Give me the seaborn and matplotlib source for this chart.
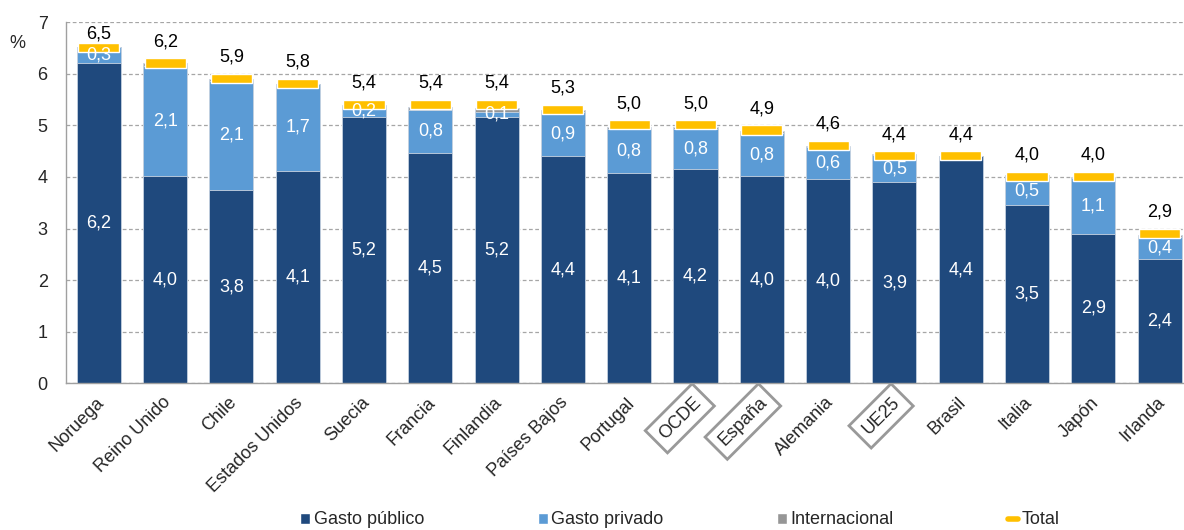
import numpy as np
import pandas as pd
import matplotlib.pyplot as plt
import seaborn as sns
from matplotlib.patches import Patch
from matplotlib.lines import Line2D


# Data (gasto en educación, % del PIB)
countries = ["Noruega", "Reino Unido", "Chile", "Estados Unidos", "Suecia", "Francia",
             "Finlandia", "Países Bajos", "Portugal", "OCDE", "España", "Alemania",
             "UE25", "Brasil", "Italia", "Japón", "Irlanda"]
public = [6.20, 4.02, 3.75, 4.12, 5.16, 4.47, 5.17, 4.40, 4.08, 4.16, 4.01, 3.96,
          3.90, 4.41, 3.46, 2.90, 2.41]
private = [0.31, 2.13, 2.11, 1.68, 0.22, 0.82, 0.09, 0.86, 0.84, 0.76, 0.84, 0.61,
           0.52, 0.00, 0.54, 1.07, 0.42]
international = [0.00, 0.05, 0.03, 0.00, 0.02, 0.06, 0.08, 0.03, 0.05, 0.04, 0.03, 0.03,
                 0.02, 0.00, 0.03, 0.02, 0.04]
total = [6.5, 6.2, 5.9, 5.8, 5.4, 5.4, 5.4, 5.3, 5.0, 5.0, 4.9, 4.6, 4.4, 4.4, 4.0, 4.0, 2.9]
boxed = ["OCDE", "España", "UE25"]

dark_blue = "#1F497D"
light_blue = "#5B9BD5"
grey = "#969696"
yellow = "#FFC000"

df = pd.DataFrame({"country": countries, "public": public, "private": private,
                   "intl": international, "total": total})
df["pub_priv"] = df["public"] + df["private"]
df["all"] = df["pub_priv"] + df["intl"]

sns.set_style("white")
plt.rcParams["font.family"] = ["Liberation Sans", "DejaVu Sans"]
plt.rcParams["font.size"] = 13

fig = plt.figure(figsize=(11.84, 5.30), dpi=100)
ax = fig.add_axes([65.7 / 1184, 1 - 383.3 / 530, 1127 / 1184, 361.2 / 530])

barw = 0.665
edge = dict(edgecolor="#c9d4e2", linewidth=0.6)

# layered stacks: tallest first
sns.barplot(data=df, x="country", y="all", color=grey, saturation=1, width=barw, ax=ax, **edge)
sns.barplot(data=df, x="country", y="pub_priv", color=light_blue, saturation=1, width=barw, ax=ax, **edge)
sns.barplot(data=df, x="country", y="public", color=dark_blue, saturation=1, width=barw, ax=ax, **edge)

# total marker
xs = np.arange(len(df))
mark_h = 0.18
ax.bar(xs, mark_h, bottom=df["total"] - mark_h / 2 + 0.01, width=0.62, color=yellow, zorder=5)

def fmt(v):
    return f"{v:.1f}".replace(".", ",")

for i, row in df.iterrows():
    ax.text(i, row["public"] / 2, fmt(row["public"]), ha="center", va="center",
            color="white", fontsize=13, zorder=6)
    if row["private"] > 0.05:
        ax.text(i, row["public"] + row["private"] / 2, fmt(row["private"]), ha="center",
                va="center", color="white", fontsize=13, zorder=6)
    ax.text(i, min(row["total"] + 0.42, 6.77), fmt(row["total"]), ha="center", va="center",
            color="black", fontsize=13, zorder=6)

ax.set_ylim(0, 7)
ax.set_xlim(-0.5, len(df) - 0.5)
ax.set_yticks(range(0, 8))
ax.yaxis.grid(True, color="#a6a6a6", linestyle=(0, (3, 2)), linewidth=0.9)
ax.set_axisbelow(True)
ax.set_xlabel("")
ax.set_ylabel("")

for s in ["top", "right"]:
    ax.spines[s].set_visible(False)
for s in ["left", "bottom"]:
    ax.spines[s].set_color("#a0a0a0")
    ax.spines[s].set_linewidth(1.0)

# x ticks at category boundaries, labels at centers
ax.set_xticks(np.arange(-0.5, len(df), 1.0))
ax.set_xticklabels([])
ax.tick_params(axis="x", which="major", length=4, color="#a0a0a0", width=1)
ax.set_xticks(xs + 0.04, minor=True)
ax.set_xticklabels(countries, minor=True, rotation=45, ha="right", va="center",
                   rotation_mode="anchor", fontsize=13)
ax.tick_params(axis="x", which="minor", length=0, pad=12)
ax.tick_params(axis="y", length=5, color="#a0a0a0", width=1, pad=8, labelsize=13)

for lbl in ax.get_xticklabels(minor=True):
    if lbl.get_text() in boxed:
        lbl.set_bbox(dict(boxstyle="square,pad=0.4", facecolor="white",
                          edgecolor="#999999", linewidth=2))

ax.text(-0.043, 0.94, "%", transform=ax.transAxes, ha="center", va="center", fontsize=13)

handles = [Patch(facecolor=dark_blue, label="Gasto público"),
           Patch(facecolor=light_blue, label="Gasto privado"),
           Patch(facecolor=grey, label="Internacional"),
           Line2D([0], [0], color=yellow, linewidth=4, label="Total")]
fig.legend(handles=handles, loc="center left", bbox_to_anchor=(300 / 1184, 10 / 530),
           ncol=4, frameon=False, borderpad=0, borderaxespad=0, handlelength=0.55,
           handleheight=0.55, handletextpad=0.2, columnspacing=6.3, fontsize=13)

fig.savefig("out.png", dpi=100)
